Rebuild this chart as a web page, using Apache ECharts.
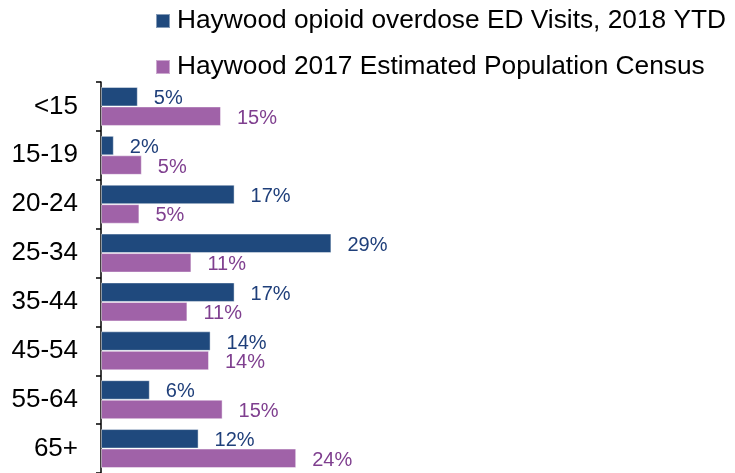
<!DOCTYPE html>
<html>
<head>
<meta charset="utf-8">
<script src="https://cdn.jsdelivr.net/npm/echarts@6/dist/echarts.min.js"></script>
<style>
html,body{margin:0;padding:0;background:#fff;}
#chart{width:735px;height:473px;}
</style>
</head>
<body>
<div id="chart"></div>
<script>
var categories = ['<15', '15-19', '20-24', '25-34', '35-44', '45-54', '55-64', '65+'];
var seriesNames = ['Haywood opioid overdose ED Visits, 2018 YTD', 'Haywood 2017 Estimated Population Census'];
var edVisits = [4.6, 1.6, 16.7, 28.8, 16.7, 13.7, 6.1, 12.2];
var population = [15.0, 5.1, 4.8, 11.3, 10.8, 13.5, 15.2, 24.4];

var FONT = '"Liberation Sans", Arial, sans-serif';
var chart = echarts.init(document.getElementById('chart'), null, {renderer: 'canvas'});

function makeLabel(color) {
  return {
    show: true,
    position: 'right',
    distance: 16,
    offset: [0, 2],
    color: color,
    fontFamily: FONT,
    fontSize: 20,
    formatter: function (p) { return Math.round(p.value) + '%'; }
  };
}

chart.setOption({
  animation: false,
  backgroundColor: '#ffffff',
  legend: {
    orient: 'vertical',
    left: 155,
    top: 8,
    padding: 0,
    itemWidth: 14,
    itemHeight: 14,
    itemGap: 20,
    icon: 'rect',
    textStyle: {fontFamily: FONT, fontSize: 26.3, lineHeight: 26, color: '#000', padding: [0, 0, 0, 2]},
    data: seriesNames
  },
  grid: {left: 101, top: 82, height: 396, width: 400, containLabel: false},
  xAxis: {
    type: 'value',
    min: 0,
    max: 50,
    show: false
  },
  yAxis: {
    type: 'category',
    data: categories,
    inverse: true,
    axisLine: {show: true, lineStyle: {color: '#000', width: 1.5}},
    axisTick: {show: true, length: 5, lineStyle: {color: '#000', width: 1.5}},
    axisLabel: {fontFamily: FONT, fontSize: 26, color: '#000', margin: 23},
    splitLine: {show: false}
  },
  series: [
    {
      name: seriesNames[0],
      type: 'bar',
      data: edVisits,
      barWidth: 19.5,
      barGap: '0%',
      itemStyle: {color: '#1F497D', borderColor: 'rgba(255,255,255,0.45)', borderWidth: 1},
      label: makeLabel('#1F3F7A')
    },
    {
      name: seriesNames[1],
      type: 'bar',
      data: population,
      barWidth: 19.5,
      barGap: '0%',
      itemStyle: {color: '#A062A8', borderColor: 'rgba(255,255,255,0.45)', borderWidth: 1},
      label: makeLabel('#7F3F8F')
    }
  ]
});
</script>
</body>
</html>
